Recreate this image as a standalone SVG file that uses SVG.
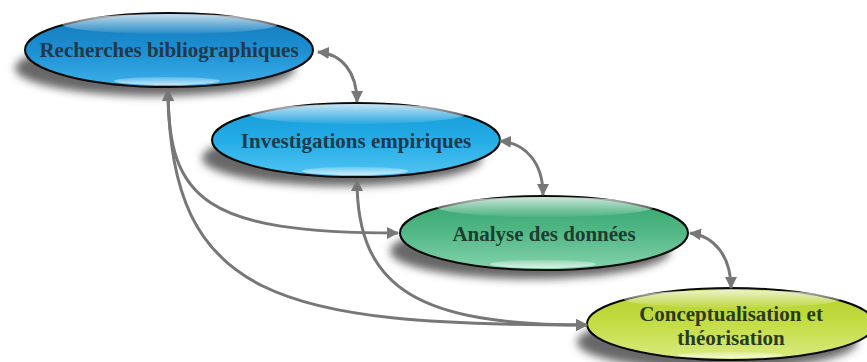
<svg xmlns="http://www.w3.org/2000/svg" width="867" height="362" viewBox="0 0 867 362">
  <style>
    .node-shape { stroke: #0a0a0a; stroke-width: 2; }
    .shadow { fill: #4d4d4d; opacity: 0.85; filter: url(#blur); }
    .hl-top { fill: url(#hlTop); }
    .hl-bot { fill: url(#hlBot); }
    .label { font-family: "Liberation Serif", "Times New Roman", serif; font-weight: bold; font-size: 21px; text-anchor: middle; }
    .conn { fill: none; stroke: #777777; stroke-width: 3; marker-start: url(#arrow); marker-end: url(#arrow); }
    .conn-end { fill: none; stroke: #777777; stroke-width: 3; marker-end: url(#arrow); }
  </style>
  <defs>
    <filter id="blur" x="-20%" y="-50%" width="140%" height="200%">
      <feGaussianBlur stdDeviation="4"/>
    </filter>
    <marker id="arrow" viewBox="0 0 12 12" refX="11" refY="6" markerWidth="12" markerHeight="12" markerUnits="userSpaceOnUse" orient="auto-start-reverse">
      <path d="M0,0 L12,6 L0,12 Z" fill="#777777"/>
    </marker>
    <linearGradient id="gBlue1" x1="0" y1="0" x2="0" y2="1">
      <stop offset="0" stop-color="#1479b8"/>
      <stop offset="0.5" stop-color="#1c8fd2"/>
      <stop offset="1" stop-color="#3db0ea"/>
    </linearGradient>
    <linearGradient id="gBlue2" x1="0" y1="0" x2="0" y2="1">
      <stop offset="0" stop-color="#1599d8"/>
      <stop offset="0.5" stop-color="#24ace6"/>
      <stop offset="1" stop-color="#52c4f2"/>
    </linearGradient>
    <linearGradient id="gGreen" x1="0" y1="0" x2="0" y2="1">
      <stop offset="0" stop-color="#33a46e"/>
      <stop offset="0.5" stop-color="#52b886"/>
      <stop offset="1" stop-color="#86d3ad"/>
    </linearGradient>
    <linearGradient id="gYellow" x1="0" y1="0" x2="0" y2="1">
      <stop offset="0" stop-color="#b2cf2a"/>
      <stop offset="0.5" stop-color="#c4dd45"/>
      <stop offset="1" stop-color="#d9eb83"/>
    </linearGradient>
    <linearGradient id="hlTop" x1="0" y1="0" x2="0" y2="1">
      <stop offset="0" stop-color="#ffffff" stop-opacity="0.75"/>
      <stop offset="1" stop-color="#ffffff" stop-opacity="0.05"/>
    </linearGradient>
    <linearGradient id="hlBot" x1="0" y1="0" x2="0" y2="1">
      <stop offset="0" stop-color="#ffffff" stop-opacity="0.2"/>
      <stop offset="1" stop-color="#ffffff" stop-opacity="0.7"/>
    </linearGradient>
  </defs>

  <g id="node-recherches">
    <ellipse class="shadow" cx="155" cy="68" rx="140" ry="28"/>
    <ellipse class="node-shape" cx="169" cy="50" rx="144" ry="37" fill="url(#gBlue1)"/>
    <ellipse class="hl-top" cx="170" cy="24" rx="108" ry="10"/>
    <ellipse class="hl-bot" cx="167" cy="81" rx="53" ry="4"/>
    <text class="label" x="169" y="57" fill="#22384a">Recherches bibliographiques</text>
  </g>

  <g id="node-investigations">
    <ellipse class="shadow" cx="342" cy="158" rx="140" ry="28"/>
    <ellipse class="node-shape" cx="356" cy="140" rx="144" ry="37" fill="url(#gBlue2)"/>
    <ellipse class="hl-top" cx="357" cy="114" rx="108" ry="10"/>
    <ellipse class="hl-bot" cx="355" cy="171" rx="53" ry="4"/>
    <text class="label" x="356" y="148" fill="#1f3a4c">Investigations empiriques</text>
  </g>

  <g id="node-analyse">
    <ellipse class="shadow" cx="530" cy="251" rx="140" ry="28"/>
    <ellipse class="node-shape" cx="544" cy="233" rx="144" ry="37" fill="url(#gGreen)"/>
    <ellipse class="hl-top" cx="545" cy="207" rx="108" ry="10"/>
    <ellipse class="hl-bot" cx="543" cy="264" rx="53" ry="4"/>
    <text class="label" x="544" y="241" fill="#1e3d30">Analyse des données</text>
  </g>

  <g id="node-conceptualisation">
    <ellipse class="shadow" cx="717" cy="342" rx="140" ry="28"/>
    <ellipse class="node-shape" cx="731" cy="324" rx="144" ry="36" fill="url(#gYellow)"/>
    <ellipse class="hl-top" cx="732" cy="299" rx="108" ry="9"/>
    <ellipse class="hl-bot" cx="730" cy="355" rx="53" ry="3"/>
    <text class="label" x="731" y="321" fill="#2a3a1e">Conceptualisation et</text>
    <text class="label" x="731" y="345" fill="#2a3a1e">théorisation</text>
  </g>

  <g id="connectors">
    <path class="conn" d="M318,52 C342,54 357,72 357,102"/>
    <path class="conn" d="M500,141 C525,143 543,162 543,195"/>
    <path class="conn" d="M690,233 C714,236 731,256 731,288"/>
    <path class="conn" d="M168,90 C168,200 205,233 398,233"/>
    <path class="conn" d="M168,90 C170,300 280,325 587,325"/>
    <path class="conn" d="M357,180 C357,290 420,325 587,325"/>
  </g>
</svg>
